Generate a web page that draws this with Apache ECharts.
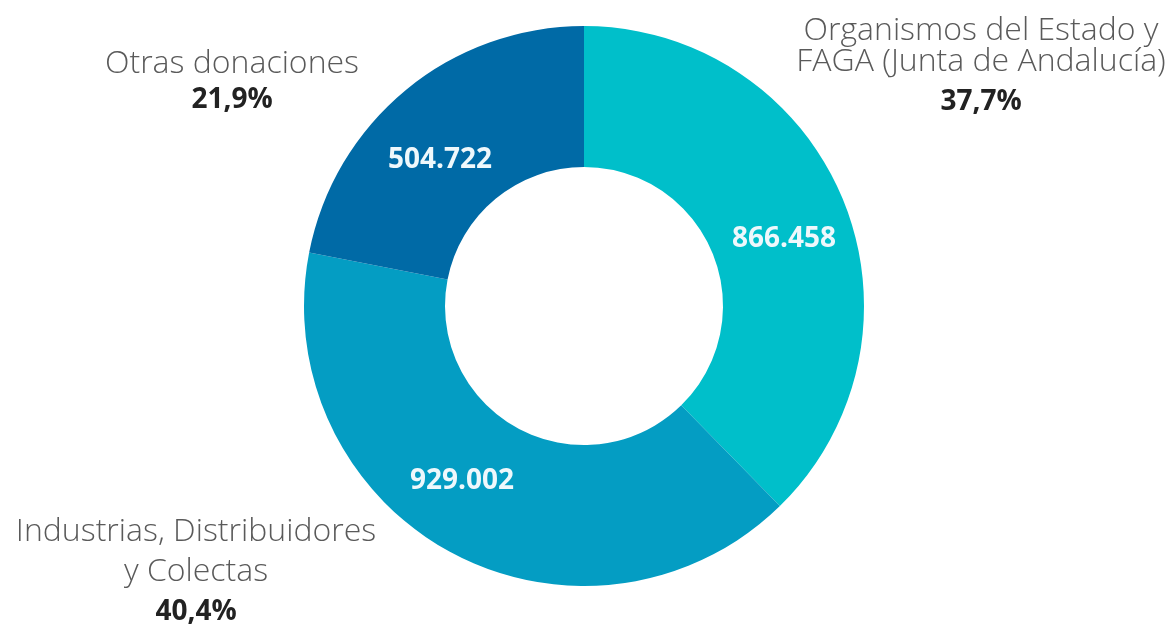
<!DOCTYPE html>
<html>
<head>
<meta charset="utf-8">
<style>
  html, body { margin: 0; padding: 0; background: #ffffff; }
  #chart { width: 1176px; height: 630px; }
</style>
<script src="https://cdn.jsdelivr.net/npm/echarts@6/dist/echarts.min.js"></script>
</head>
<body>
<div id="chart"></div>
<script>
// Data
const categories = [
  'Organismos del Estado y\nFAGA (Junta de Andalucía)',
  'Industrias, Distribuidores\ny Colectas',
  'Otras donaciones'
];
const values = [866458, 929002, 504722];
const colors = ['#00bfca', '#049dc3', '#006aa6'];

const seriesData = categories.map((c, i) => ({ name: c, value: values[i], itemStyle: { color: colors[i] } }));

// label placement (layout only)
const innerPos = [[784, 239], [462, 481], [440, 160]];
const outerPos = [[981, 15], [196, 512], [232, 46]];
const nameLH = [31, 40, 36];
const pctLH = [50, 40, 36];

function fmtThousands(v) {
  return String(v).replace(/\B(?=(\d{3})+(?!\d))/g, '.');
}

const rich = {};
nameLH.forEach((lh, i) => {
  rich['n' + i] = { fontFamily: 'Open Sans', fontWeight: 300, fontSize: 32, lineHeight: lh, color: '#5a5a5a', align: 'center' };
  rich['p' + i] = { fontFamily: 'Open Sans', fontWeight: 'bold', fontSize: 28, lineHeight: pctLH[i], color: '#222222', align: 'center' };
});

const chart = echarts.init(document.getElementById('chart'), null, { renderer: 'canvas' });
chart.setOption({
  backgroundColor: '#ffffff',
  animation: false,
  series: [
    {
      type: 'pie',
      center: [584, 306],
      radius: [139, 280],
      startAngle: 90,
      clockwise: true,
      silent: true,
      percentPrecision: 1,
      data: seriesData,
      itemStyle: { borderWidth: 0 },
      label: {
        show: true,
        position: 'inside',
        formatter: p => fmtThousands(p.value),
        color: '#eef8fc',
        fontFamily: 'Open Sans',
        fontWeight: 'bold',
        fontSize: 28
      },
      labelLine: { show: false },
      labelLayout: p => ({ x: innerPos[p.dataIndex][0], y: innerPos[p.dataIndex][1], align: 'center', verticalAlign: 'middle' })
    },
    {
      type: 'pie',
      center: [584, 306],
      radius: [139, 280],
      startAngle: 90,
      clockwise: true,
      silent: true,
      percentPrecision: 1,
      data: categories.map((c, i) => ({ name: c, value: values[i] })),
      itemStyle: { color: 'rgba(0,0,0,0)', borderWidth: 0 },
      label: {
        show: true,
        position: 'outside',
        overflow: 'none',
        alignTo: 'none',
        formatter: p => {
          const k = p.dataIndex;
          return '{n' + k + '|' + p.name.split('\n').join('}\n{n' + k + '|') + '}\n{p' + k + '|' + p.percent.toFixed(1).replace('.', ',') + '%}';
        },
        align: 'center',
        rich: rich
      },
      labelLine: { show: false },
      labelLayout: p => ({ x: outerPos[p.dataIndex][0], y: outerPos[p.dataIndex][1], align: 'center', verticalAlign: 'top', width: 500 })
    }
  ]
});
</script>
</body>
</html>
